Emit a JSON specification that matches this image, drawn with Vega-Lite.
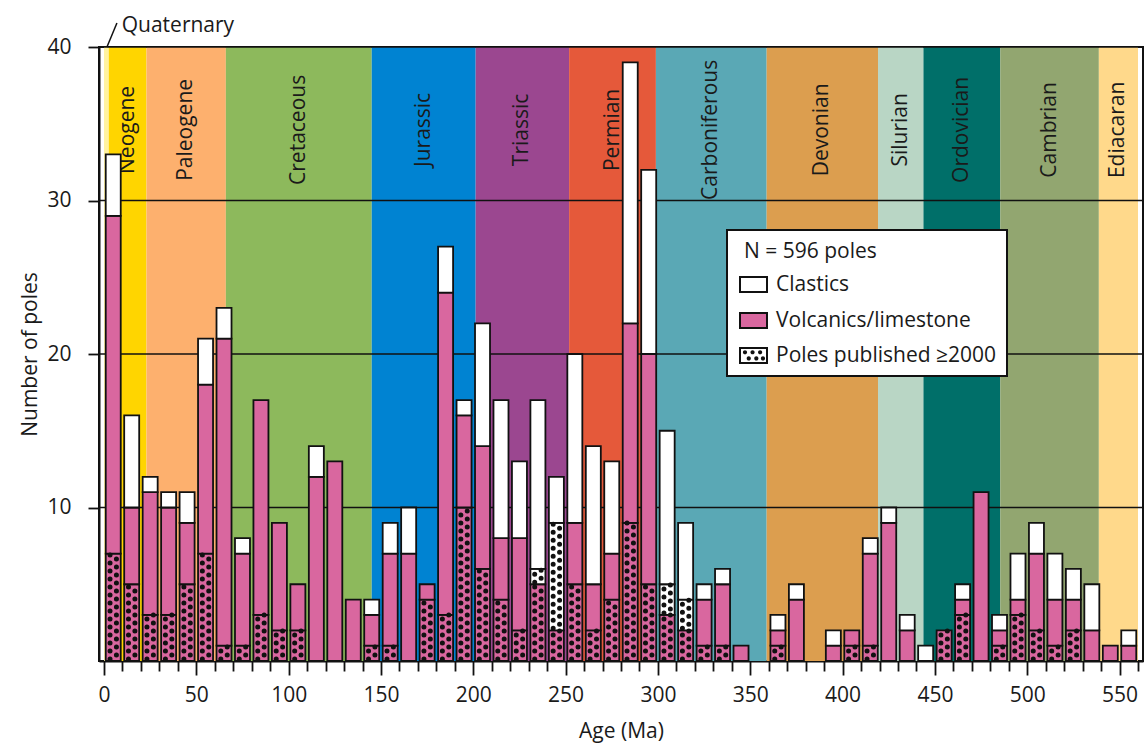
{
  "$schema": "https://vega.github.io/schema/vega-lite/v6.json",
  "width": 1044,
  "height": 614,
  "autosize": {"type": "none"},
  "padding": {"left": 99, "top": 47, "right": 3, "bottom": 82},
  "config": {
    "font": "Open Sans",
    "view": {"stroke": "#111111", "strokeWidth": 2},
    "axis": {
      "domainColor": "#111111",
      "domainWidth": 2,
      "tickColor": "#111111",
      "tickWidth": 1.8,
      "labelColor": "#1a1a1a",
      "labelFontSize": 21,
      "titleFontSize": 21,
      "titleFontWeight": "normal",
      "titleColor": "#1a1a1a",
      "grid": false,
      "zindex": 1
    },
    "axisX": {
      "tickCount": 56,
      "labelExpr": "datum.value % 50 === 0 ? datum.label : ''",
      "labelOverlap": false,
      "labelFlush": false,
      "labelBound": false,
      "tickSize": {"condition": {"test": "datum.value % 50 === 0", "value": 14}, "value": 10},
      "labelPadding": 9,
      "titlePadding": 15
    },
    "axisY": {"tickSize": 11, "labelPadding": 17, "titlePadding": 6}
  },
  "datasets": {
    "periods": [
      {"period": "Quaternary", "start": 0, "end": 2.58},
      {"period": "Neogene", "start": 2.58, "end": 23.03},
      {"period": "Paleogene", "start": 23.03, "end": 66},
      {"period": "Cretaceous", "start": 66, "end": 145},
      {"period": "Jurassic", "start": 145, "end": 201.3},
      {"period": "Triassic", "start": 201.3, "end": 251.9},
      {"period": "Permian", "start": 251.9, "end": 298.9},
      {"period": "Carboniferous", "start": 298.9, "end": 358.9},
      {"period": "Devonian", "start": 358.9, "end": 419.2},
      {"period": "Silurian", "start": 419.2, "end": 443.8},
      {"period": "Ordovician", "start": 443.8, "end": 485.4},
      {"period": "Cambrian", "start": 485.4, "end": 538.8},
      {"period": "Ediacaran", "start": 538.8, "end": 560}
    ],
    "gridlines": [{"poles": 10}, {"poles": 20}, {"poles": 30}, {"poles": 40}],
    "poles": [
      {"age": 5, "volc_since2000": 7, "volc_before2000": 22, "clast_since2000": 0, "clast_before2000": 4},
      {"age": 15, "volc_since2000": 5, "volc_before2000": 5, "clast_since2000": 0, "clast_before2000": 6},
      {"age": 25, "volc_since2000": 3, "volc_before2000": 8, "clast_since2000": 0, "clast_before2000": 1},
      {"age": 35, "volc_since2000": 3, "volc_before2000": 7, "clast_since2000": 0, "clast_before2000": 1},
      {"age": 45, "volc_since2000": 5, "volc_before2000": 4, "clast_since2000": 0, "clast_before2000": 2},
      {"age": 55, "volc_since2000": 7, "volc_before2000": 11, "clast_since2000": 0, "clast_before2000": 3},
      {"age": 65, "volc_since2000": 1, "volc_before2000": 20, "clast_since2000": 0, "clast_before2000": 2},
      {"age": 75, "volc_since2000": 1, "volc_before2000": 6, "clast_since2000": 0, "clast_before2000": 1},
      {"age": 85, "volc_since2000": 3, "volc_before2000": 14, "clast_since2000": 0, "clast_before2000": 0},
      {"age": 95, "volc_since2000": 2, "volc_before2000": 7, "clast_since2000": 0, "clast_before2000": 0},
      {"age": 105, "volc_since2000": 2, "volc_before2000": 3, "clast_since2000": 0, "clast_before2000": 0},
      {"age": 115, "volc_since2000": 0, "volc_before2000": 12, "clast_since2000": 0, "clast_before2000": 2},
      {"age": 125, "volc_since2000": 0, "volc_before2000": 13, "clast_since2000": 0, "clast_before2000": 0},
      {"age": 135, "volc_since2000": 0, "volc_before2000": 4, "clast_since2000": 0, "clast_before2000": 0},
      {"age": 145, "volc_since2000": 1, "volc_before2000": 2, "clast_since2000": 0, "clast_before2000": 1},
      {"age": 155, "volc_since2000": 1, "volc_before2000": 6, "clast_since2000": 0, "clast_before2000": 2},
      {"age": 165, "volc_since2000": 0, "volc_before2000": 7, "clast_since2000": 0, "clast_before2000": 3},
      {"age": 175, "volc_since2000": 4, "volc_before2000": 1, "clast_since2000": 0, "clast_before2000": 0},
      {"age": 185, "volc_since2000": 3, "volc_before2000": 21, "clast_since2000": 0, "clast_before2000": 3},
      {"age": 195, "volc_since2000": 10, "volc_before2000": 6, "clast_since2000": 0, "clast_before2000": 1},
      {"age": 205, "volc_since2000": 6, "volc_before2000": 8, "clast_since2000": 0, "clast_before2000": 8},
      {"age": 215, "volc_since2000": 4, "volc_before2000": 4, "clast_since2000": 0, "clast_before2000": 9},
      {"age": 225, "volc_since2000": 2, "volc_before2000": 6, "clast_since2000": 0, "clast_before2000": 5},
      {"age": 235, "volc_since2000": 5, "volc_before2000": 0, "clast_since2000": 1, "clast_before2000": 11},
      {"age": 245, "volc_since2000": 2, "volc_before2000": 0, "clast_since2000": 7, "clast_before2000": 3},
      {"age": 255, "volc_since2000": 5, "volc_before2000": 4, "clast_since2000": 0, "clast_before2000": 11},
      {"age": 265, "volc_since2000": 2, "volc_before2000": 3, "clast_since2000": 0, "clast_before2000": 9},
      {"age": 275, "volc_since2000": 4, "volc_before2000": 3, "clast_since2000": 0, "clast_before2000": 6},
      {"age": 285, "volc_since2000": 9, "volc_before2000": 13, "clast_since2000": 0, "clast_before2000": 17},
      {"age": 295, "volc_since2000": 5, "volc_before2000": 15, "clast_since2000": 0, "clast_before2000": 12},
      {"age": 305, "volc_since2000": 3, "volc_before2000": 0, "clast_since2000": 2, "clast_before2000": 10},
      {"age": 315, "volc_since2000": 2, "volc_before2000": 0, "clast_since2000": 2, "clast_before2000": 5},
      {"age": 325, "volc_since2000": 1, "volc_before2000": 3, "clast_since2000": 0, "clast_before2000": 1},
      {"age": 335, "volc_since2000": 1, "volc_before2000": 4, "clast_since2000": 0, "clast_before2000": 1},
      {"age": 345, "volc_since2000": 0, "volc_before2000": 1, "clast_since2000": 0, "clast_before2000": 0},
      {"age": 365, "volc_since2000": 1, "volc_before2000": 1, "clast_since2000": 0, "clast_before2000": 1},
      {"age": 375, "volc_since2000": 0, "volc_before2000": 4, "clast_since2000": 0, "clast_before2000": 1},
      {"age": 395, "volc_since2000": 0, "volc_before2000": 1, "clast_since2000": 0, "clast_before2000": 1},
      {"age": 405, "volc_since2000": 1, "volc_before2000": 1, "clast_since2000": 0, "clast_before2000": 0},
      {"age": 415, "volc_since2000": 1, "volc_before2000": 6, "clast_since2000": 0, "clast_before2000": 1},
      {"age": 425, "volc_since2000": 0, "volc_before2000": 9, "clast_since2000": 0, "clast_before2000": 1},
      {"age": 435, "volc_since2000": 0, "volc_before2000": 2, "clast_since2000": 0, "clast_before2000": 1},
      {"age": 445, "volc_since2000": 0, "volc_before2000": 0, "clast_since2000": 0, "clast_before2000": 1},
      {"age": 455, "volc_since2000": 2, "volc_before2000": 0, "clast_since2000": 0, "clast_before2000": 0},
      {"age": 465, "volc_since2000": 3, "volc_before2000": 1, "clast_since2000": 0, "clast_before2000": 1},
      {"age": 475, "volc_since2000": 0, "volc_before2000": 11, "clast_since2000": 0, "clast_before2000": 0},
      {"age": 485, "volc_since2000": 1, "volc_before2000": 1, "clast_since2000": 0, "clast_before2000": 1},
      {"age": 495, "volc_since2000": 3, "volc_before2000": 1, "clast_since2000": 0, "clast_before2000": 3},
      {"age": 505, "volc_since2000": 2, "volc_before2000": 5, "clast_since2000": 0, "clast_before2000": 2},
      {"age": 515, "volc_since2000": 1, "volc_before2000": 3, "clast_since2000": 0, "clast_before2000": 3},
      {"age": 525, "volc_since2000": 2, "volc_before2000": 2, "clast_since2000": 0, "clast_before2000": 2},
      {"age": 535, "volc_since2000": 0, "volc_before2000": 2, "clast_since2000": 0, "clast_before2000": 3},
      {"age": 545, "volc_since2000": 0, "volc_before2000": 1, "clast_since2000": 0, "clast_before2000": 0},
      {"age": 555, "volc_since2000": 0, "volc_before2000": 1, "clast_since2000": 0, "clast_before2000": 1}
    ]
  },
  "layer": [
    {
      "data": {"name": "periods"},
      "mark": {"type": "rect"},
      "encoding": {
        "x": {
          "field": "start",
          "type": "quantitative",
          "title": "Age (Ma)",
          "scale": {"domain": [0, 560], "nice": false, "zero": false}
        },
        "x2": {"field": "end"},
        "y": {
          "datum": 0,
          "type": "quantitative",
          "title": "Number of poles",
          "scale": {"domain": [0, 40], "nice": false},
          "axis": {"values": [10, 20, 30, 40]}
        },
        "y2": {"datum": 40},
        "color": {
          "field": "period",
          "type": "nominal",
          "legend": null,
          "scale": {
            "domain": ["Quaternary", "Neogene", "Paleogene", "Cretaceous", "Jurassic", "Triassic", "Permian", "Carboniferous", "Devonian", "Silurian", "Ordovician", "Cambrian", "Ediacaran"],
            "range": ["#fff2a0", "#ffd500", "#fdb06e", "#8db95c", "#0083d2", "#9b4790", "#e5593a", "#5aa8b5", "#dc9e4f", "#b9d6c5", "#006f69", "#92a670", "#ffd98b"]
          }
        }
      }
    },
    {
      "data": {"name": "periods"},
      "transform": [
        {"filter": "datum.period !== 'Quaternary'"},
        {"calculate": "(datum.start + datum.end) / 2", "as": "mid"}
      ],
      "mark": {"type": "text", "angle": 270, "align": "center", "baseline": "middle", "fontSize": 21, "color": "#1a1a1a"},
      "encoding": {
        "x": {"field": "mid", "type": "quantitative", "title": "Age (Ma)"},
        "y": {"datum": 34.6, "type": "quantitative", "title": "Number of poles"},
        "text": {"field": "period"}
      }
    },
    {
      "data": {"name": "gridlines"},
      "mark": {"type": "rule", "stroke": "#111111", "strokeWidth": 1.6},
      "encoding": {
        "y": {"field": "poles", "type": "quantitative", "title": "Number of poles"}
      }
    },
    {
      "data": {"name": "poles"},
      "transform": [
        {"fold": ["volc_since2000", "volc_before2000", "clast_since2000", "clast_before2000"], "as": ["key", "n"]},
        {"filter": "datum.n > 0"},
        {"calculate": "indexof(datum.key, 'volc') === 0 ? 'Volcanics/limestone' : 'Clastics'", "as": "rock"},
        {"stack": "n", "groupby": ["age"], "sort": [{"field": "key", "order": "descending"}], "as": ["y0", "y1"]}
      ],
      "layer": [
        {
          "mark": {"type": "bar", "width": 15, "stroke": "#111111", "strokeWidth": 1.8},
          "encoding": {
            "x": {"field": "age", "type": "quantitative", "title": "Age (Ma)"},
            "y": {"field": "y0", "type": "quantitative", "title": "Number of poles"},
            "y2": {"field": "y1"},
            "fill": {
              "field": "rock",
              "type": "nominal",
              "scale": {
                "domain": ["Clastics", "Volcanics/limestone", "Poles published ≥2000"],
                "range": ["#ffffff", "#d9679f", "#111111"]
              },
              "legend": {
                "title": "N = 596 poles",
                "orient": "none",
                "legendX": 628,
                "legendY": 183,
                "fillColor": "#ffffff",
                "strokeColor": "#111111",
                "padding": 10,
                "symbolType": "M-1,-0.56H1V0.56H-1Z",
                "symbolSize": 729,
                "symbolStrokeColor": "#111111",
                "symbolStrokeWidth": 2,
                "symbolOffset": 6,
                "labelFontSize": 21,
                "labelColor": "#1a1a1a",
                "labelOffset": 12,
                "labelLimit": 400,
                "titleFontSize": 21,
                "titleFontWeight": "normal",
                "titleColor": "#1a1a1a",
                "titlePadding": 13,
                "rowPadding": 11,
                "encode": {
                  "legend": {"update": {"strokeWidth": {"value": 2}}},
                  "title": {"update": {"dx": {"value": 7}, "dy": {"value": 1}}},
                  "symbols": {
                    "update": {
                      "shape": {"signal": "datum.value === 'Poles published ≥2000' ? 'M-1.074,-0.634H1.074V0.634H-1.074ZM-0.926,-0.486V0.486H0.926V-0.486ZM-0.786,-0.24a0.156,0.156 0 1 0 0.312,0a0.156,0.156 0 1 0 -0.312,0ZM-0.226,-0.24a0.156,0.156 0 1 0 0.312,0a0.156,0.156 0 1 0 -0.312,0ZM0.334,-0.24a0.156,0.156 0 1 0 0.312,0a0.156,0.156 0 1 0 -0.312,0ZM-0.506,0.22a0.156,0.156 0 1 0 0.312,0a0.156,0.156 0 1 0 -0.312,0ZM0.054,0.22a0.156,0.156 0 1 0 0.312,0a0.156,0.156 0 1 0 -0.312,0ZM0.544,0.22a0.156,0.156 0 1 0 0.312,0a0.156,0.156 0 1 0 -0.312,0Z' : 'M-1,-0.56H1V0.56H-1Z'"},
                      "strokeWidth": {"signal": "datum.value === 'Poles published ≥2000' ? 0 : 2"}
                    }
                  }
                }
              }
            }
          }
        },
        {
          "transform": [{"filter": "indexof(datum.key, 'since2000') > 0"}],
          "mark": {"type": "rule", "stroke": "#111111", "strokeWidth": 5, "strokeCap": "round", "strokeDash": [0, 8], "strokeDashOffset": 6, "xOffset": -3.2},
          "encoding": {
            "x": {"field": "age", "type": "quantitative", "title": "Age (Ma)"},
            "y": {"field": "y0", "type": "quantitative", "title": "Number of poles"},
            "y2": {"field": "y1"}
          }
        },
        {
          "transform": [{"filter": "indexof(datum.key, 'since2000') > 0"}],
          "mark": {"type": "rule", "stroke": "#111111", "strokeWidth": 5, "strokeCap": "round", "strokeDash": [0, 8], "strokeDashOffset": 2, "xOffset": 3.2},
          "encoding": {
            "x": {"field": "age", "type": "quantitative", "title": "Age (Ma)"},
            "y": {"field": "y0", "type": "quantitative", "title": "Number of poles"},
            "y2": {"field": "y1"}
          }
        }
      ]
    },
    {
      "data": {"values": [{"label": "Quaternary"}]},
      "layer": [
        {
          "mark": {"type": "rule", "stroke": "#111111", "strokeWidth": 1.5},
          "encoding": {
            "x": {"datum": 1.6, "type": "quantitative", "title": "Age (Ma)"},
            "x2": {"datum": 7.0},
            "y": {"datum": 40, "type": "quantitative", "title": "Number of poles"},
            "y2": {"datum": 41.56}
          }
        },
        {
          "mark": {"type": "text", "align": "left", "baseline": "alphabetic", "fontSize": 21, "color": "#1a1a1a"},
          "encoding": {
            "x": {"datum": 9.6, "type": "quantitative", "title": "Age (Ma)"},
            "y": {"datum": 41.0, "type": "quantitative", "title": "Number of poles"},
            "text": {"field": "label"}
          }
        }
      ]
    }
  ]
}
